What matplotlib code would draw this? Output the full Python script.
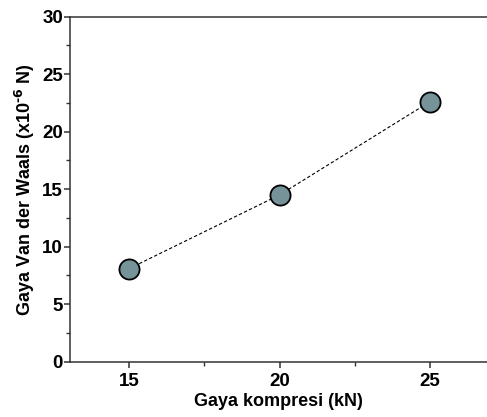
import matplotlib.pyplot as plt
from matplotlib.ticker import MultipleLocator

plt.rcParams['font.family'] = ['Liberation Sans', 'DejaVu Sans']
plt.rcParams['font.weight'] = 'bold'
plt.rcParams['mathtext.default'] = 'bf'

kompresi = [15, 20, 25]
gaya_vdw = [8.1, 14.5, 22.6]

fig = plt.figure(figsize=(4.87, 4.17), dpi=100)
ax = fig.add_axes([0.1437, 0.1326, 0.8563, 0.8274])

ax.plot(kompresi, gaya_vdw, linestyle=(0, (3, 2)), color='black', linewidth=0.8,
        marker='o', markersize=14.5, markerfacecolor='#76939a',
        markeredgecolor='black', markeredgewidth=1.3)

ax.set_xlim(13.03, 26.9)
ax.set_ylim(0, 30)
ax.xaxis.set_major_locator(MultipleLocator(5))
ax.xaxis.set_minor_locator(MultipleLocator(2.5))
ax.yaxis.set_major_locator(MultipleLocator(5))
ax.yaxis.set_minor_locator(MultipleLocator(2.5))

for s in ['left', 'bottom', 'top']:
    ax.spines[s].set_color('#333333')
    ax.spines[s].set_linewidth(1.1)
ax.spines['right'].set_visible(False)

ax.tick_params(which='major', direction='out', length=4, width=1.1, color='#333333',
               labelsize=13.5, pad=1)
ax.tick_params(which='minor', direction='out', length=3, width=1.0, color='#333333')
ax.tick_params(axis='x', pad=4)

ax.set_xlabel('Gaya kompresi (kN)', fontsize=13, fontweight='bold', labelpad=2)
ax.set_ylabel('Gaya Van der Waals (x10$^{\\text{-6}}$ N)', fontsize=13,
              fontweight='bold', labelpad=4)

fig.savefig('out.png', dpi=100)
